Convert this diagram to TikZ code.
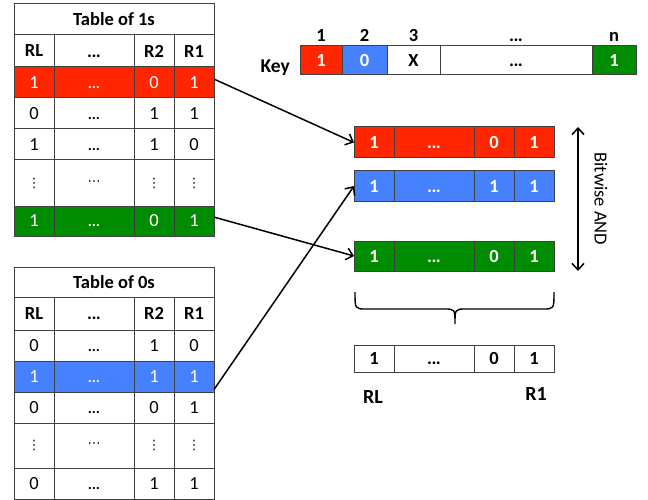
\documentclass[tikz,border=0pt]{standalone}
\usepackage{fontspec}
\setmainfont{Carlito}
\newfontfamily\dv{DejaVu Sans}
\usetikzlibrary{arrows.meta,calc}
\definecolor{cred}{HTML}{FF2600}
\definecolor{cblue}{HTML}{4682FF}
\definecolor{cgreen}{HTML}{008C00}
\newcommand\fsz{\fontsize{18.5}{20}\selectfont}
\newcommand\vd{{\dv\fontsize{13}{13}\selectfont ⋮}}
\newcommand\hd{{\dv\fontsize{13}{13}\selectfont ⋯}}
\newcommand\el{\vphantom{0}.\kern-0.6pt.\kern-0.6pt.}
\newcommand\trow[9]{%
 \node[cell,#5,minimum width=40pt,minimum height=#4] (#1a) at (#2,#3) {#6};
 \node[cell,#5,minimum width=80pt,minimum height=#4] (#1b) at (#1a.north east) {#7};
 \node[cell,#5,minimum width=40pt,minimum height=#4] (#1c) at (#1b.north east) {#8};
 \node[cell,#5,minimum width=40pt,minimum height=#4] (#1d) at (#1c.north east) {#9};
}
\begin{document}
\begin{tikzpicture}[x=1pt,y=-1pt,font=\fsz,
  cell/.style={draw=black!75,line width=1pt,inner sep=0pt,outer sep=0pt,anchor=north west},
  nb/.style={font=\fsz},
  bb/.style={font=\fsz\bfseries},
  >={Straight Barb[length=6.5pt,width=12pt,line width=1.5pt]},
  arr/.style={->,line width=1.5pt}]
\useasboundingbox (0,0) rectangle (648,500);
% ---------- Table of 1s
\node[cell,bb,minimum width=200pt,minimum height=31pt] (t1title) at (14,4) {Table of 1s};
\trow{t1h}{14}{35}{32pt}{bb}{RL}{\el}{R2}{R1}
\trow{t1r1}{14}{67}{31pt}{nb,fill=cred,text=white}{1}{\el}{0}{1}
\trow{t1r2}{14}{98}{31pt}{nb}{0}{\el}{1}{1}
\trow{t1r3}{14}{129}{31pt}{nb}{1}{\el}{1}{0}
\trow{t1r4}{14}{160}{46pt}{nb}{\vd}{\hd}{\vd}{\vd}
\trow{t1r5}{14}{206}{30pt}{nb,fill=cgreen,text=white}{1}{\el}{0}{1}
% ---------- Table of 0s
\node[cell,bb,minimum width=200pt,minimum height=30pt] (t0title) at (14,267) {Table of 0s};
\trow{t0h}{14}{297}{33pt}{bb}{RL}{\el}{R2}{R1}
\trow{t0r1}{14}{330}{31pt}{nb}{0}{\el}{1}{0}
\trow{t0r2}{14}{361}{31pt}{nb,fill=cblue,text=white}{1}{\el}{1}{1}
\trow{t0r3}{14}{392}{31pt}{nb}{0}{\el}{0}{1}
\trow{t0r4}{14}{423}{45pt}{nb}{\vd}{\hd}{\vd}{\vd}
\trow{t0r5}{14}{468}{31pt}{nb}{0}{\el}{1}{1}
% ---------- Key
\node[cell,bb,fill=cred,text=white,minimum width=42pt,minimum height=29pt] (k1) at (300,46) {1};
\node[cell,bb,fill=cblue,text=white,minimum width=45pt,minimum height=29pt] (k2) at (k1.north east) {0};
\node[cell,bb,minimum width=53pt,minimum height=29pt] (k3) at (k2.north east) {X};
\node[cell,bb,minimum width=152pt,minimum height=29pt] (k4) at (k3.north east) {\el};
\node[cell,bb,fill=cgreen,text=white,minimum width=44pt,minimum height=29pt] (k5) at (k4.north east) {1};
\node[bb,anchor=base] (k1l) at ($(k1.north)+(0,-4.5)$) {1};
\node[bb,anchor=base] (k2l) at ($(k2.north)+(0,-4.5)$) {2};
\node[bb,anchor=base] (k3l) at ($(k3.north)+(0,-4.5)$) {3};
\node[bb,anchor=base] (k4l) at ($(k4.north)+(0,-4.5)$) {\el};
\node[bb,anchor=base] (k5l) at ($(k5.north)+(0,-4.5)$) {n};
\node[font=\fontsize{19.5}{22}\selectfont\bfseries,anchor=base east,inner sep=0pt] (keylbl) at (290,73) {Key};
% ---------- Right bars
\trow{rr}{354}{127}{31pt}{bb,fill=cred,text=white}{1}{\el}{0}{1}
\trow{rb}{354}{171}{30pt}{bb,fill=cblue,text=white}{1}{\el}{1}{1}
\trow{rg}{354}{241}{30pt}{bb,fill=cgreen,text=white}{1}{\el}{0}{1}
\trow{res}{354}{345}{27pt}{bb}{1}{\el}{0}{1}
\node[font=\fontsize{20}{22}\selectfont\bfseries] (rl) at (373,397) {RL};
\node[font=\fontsize{20}{22}\selectfont\bfseries] (r1) at (536,394) {R1};
% ---------- Bitwise AND
\coordinate (ba1) at (578,127);
\coordinate (ba2) at (578,271);
\draw[<->,line width=1.5pt] (ba1) -- (ba2);
\node[nb,rotate=-90] (bw) at (601,199) {Bitwise AND};
% ---------- Brace
\draw[line width=1.4pt] (355,292) .. controls (355,309) .. (366,309) -- (444,309)
  .. controls (455,309) .. (455,324) .. controls (455,309) .. (466,309) -- (543,309)
  .. controls (554,309) .. (554,292);
% ---------- Arrows
\draw[arr] ($(t1r1d.north east)!0.39!(t1r1d.south east)$) -- (rra.west);
\draw[arr] ($(t1r5d.north east)!0.37!(t1r5d.south east)$) -- (rga.west);
\draw[arr] ($(t0r2d.north east)!0.92!(t0r2d.south east)$) -- (rba.west);
\end{tikzpicture}
\end{document}
